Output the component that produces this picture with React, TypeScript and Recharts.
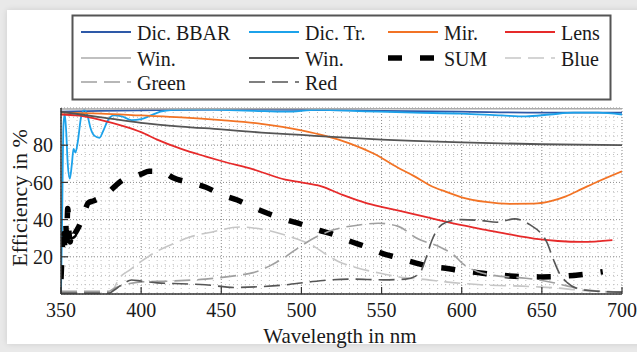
import { LineChart, Line, XAxis, YAxis, CartesianGrid } from 'recharts';

type Pt = [number, number];

// wavelength (nm) / efficiency (%) pairs
const bbar: Pt[] = [[350, 98], [375, 98.5], [400, 98.8], [450, 99.2], [500, 99], [550, 98.5], [600, 98], [650, 97.5], [700, 97.5]];

const dicTr: Pt[] = [
  [350, 0], [350.7, 40], [351.5, 90], [352.3, 97], [353.2, 88], [354.2, 70], [355.5, 62], [356.8, 70], [357.8, 78],
  [359, 76], [360.5, 82], [362.5, 95], [364.5, 99], [366.5, 96], [368.5, 89], [371, 85], [374, 84], [376.5, 88],
  [379, 93], [383, 96], [388, 95.5], [394, 93.5], [400, 94], [406, 96], [412, 98], [420, 99], [435, 99.3],
  [450, 99], [470, 98.5], [490, 98], [510, 99], [540, 98.2], [570, 97.5], [600, 97], [625, 96], [640, 95.5],
  [655, 96.5], [670, 97.5], [685, 97.5], [700, 96.5],
];

const mirror: Pt[] = [
  [350, 97.5], [375, 97], [400, 96], [425, 95], [450, 93.5], [475, 91.5], [500, 88], [515, 85], [530, 81],
  [545, 75.5], [560, 68], [570, 63.5], [580, 58.5], [590, 55], [600, 52], [615, 49.5], [630, 48.5], [645, 48.6],
  [655, 49.8], [665, 52.5], [675, 56.5], [685, 60.5], [700, 66],
];

const lens: Pt[] = [
  [350, 96.5], [360, 96], [375, 93.5], [390, 90], [400, 87], [410, 83], [425, 78], [440, 74], [450, 71.5],
  [470, 67], [490, 61.5], [500, 60], [512, 58], [525, 53.5], [540, 49], [552, 46.5], [570, 43], [587, 39.5],
  [600, 37], [615, 34.5], [630, 32], [645, 29.8], [660, 28.5], [675, 28], [694, 29],
];

const winLight: Pt[] = [[350, 99.5], [500, 99.6], [700, 99.6]];

const winDark: Pt[] = [
  [350, 98], [375, 95], [400, 92], [425, 90], [450, 88.5], [475, 86.8], [500, 85.5], [525, 84.2], [550, 83],
  [575, 82.2], [600, 81.5], [650, 80.5], [700, 80],
];

const sum: Pt[] = [
  [350, 8], [350.7, 22], [351.4, 32], [352.1, 24], [352.8, 40], [353.5, 30], [354.2, 46], [355, 33], [355.8, 28],
  [356.6, 35], [357.5, 31], [359, 33], [361, 36], [363, 40], [365, 45], [367, 49], [370, 50], [375, 52], [380, 55],
  [385, 59], [390, 62], [395, 63], [400, 64.5], [405, 66], [410, 66], [415, 65], [420, 62.5], [430, 60],
  [440, 57.5], [450, 53.5], [460, 50.5], [470, 46.5], [480, 43], [490, 40], [500, 37.5], [510, 34.5], [520, 32],
  [530, 28.5], [540, 25.5], [550, 22], [560, 19.5], [570, 17], [580, 14.8], [590, 13.8], [600, 12.5], [610, 11.5],
  [620, 10.5], [630, 9.7], [640, 9.3], [650, 9.2], [660, 9.4], [670, 10], [680, 11], [688, 12],
];

const blue: Pt[] = [
  [350, 0.5], [380, 0.5], [382, 1.5], [386, 8], [393, 13], [400, 17.5], [410, 23], [420, 27], [430, 30.5],
  [445, 33.5], [462, 36], [470, 35.5], [480, 34], [494, 30.5], [508, 25.5], [515, 21.5], [523, 17.5], [535, 14],
  [550, 11], [562, 9], [575, 8], [590, 6.5], [612, 5], [643, 4], [660, 3.2], [670, 2.3], [685, 1.5], [700, 1],
];

const green: Pt[] = [
  [350, 1.5], [380, 1.5], [383, 3], [390, 5], [400, 6.5], [420, 7], [440, 8], [460, 10], [470, 11.5], [480, 15],
  [490, 20], [500, 26], [510, 31], [520, 34.5], [535, 37], [548, 38], [560, 36.5], [572, 30], [587, 25], [595, 21],
  [601, 16], [610, 12], [620, 10], [640, 8.5], [655, 6.5], [665, 4.5], [680, 2], [700, 1],
];

const red: Pt[] = [
  [350, 0.5], [380, 0.5], [383, 2], [388, 5], [394, 7.5], [400, 7], [410, 6], [425, 5.5], [440, 5], [458, 3.5],
  [475, 4], [489, 4.8], [505, 6.5], [518, 7.6], [531, 8], [551, 7.6], [565, 8], [571, 9.5], [575, 13], [578, 20],
  [581, 28], [585, 35], [590, 38.5], [600, 40], [612, 39.5], [622, 38.6], [633, 40.4], [643, 37], [649, 33],
  [653, 28], [657, 19], [661, 11], [666, 6], [674, 2.5], [685, 1.5], [700, 1],
];

const xTicks = [350, 400, 450, 500, 550, 600, 650, 700];
const yTicks = [20, 40, 60, 80];

// minor grid every 5 nm / 5 %
const xMinor: number[] = [];
for (let v = 355; v < 700; v += 5) if (v % 50 !== 0) xMinor.push(v);
const yMinor: number[] = [];
for (let v = 5; v < 100; v += 5) if (v % 20 !== 0) yMinor.push(v);

const FONT = "'Liberation Serif', 'Times New Roman', serif";
const DASH_F = '16 7';

const series = [
  { name: 'Dic. BBAR', pts: bbar, color: '#2e59a8', w: 1.8, dash: undefined },
  { name: 'Dic. Tr.', pts: dicTr, color: '#1ca2ea', w: 1.8, dash: undefined },
  { name: 'Mir.', pts: mirror, color: '#f27325', w: 1.8, dash: undefined },
  { name: 'Lens', pts: lens, color: '#e62a2a', w: 1.8, dash: undefined },
  { name: 'Win.', pts: winLight, color: '#ababab', w: 1.6, dash: undefined },
  { name: 'Win.', pts: winDark, color: '#555555', w: 1.8, dash: undefined },
  { name: 'SUM', pts: sum, color: '#000000', w: 5.5, dash: '14 18' },
  { name: 'Blue', pts: blue, color: '#c6c6c6', w: 1.6, dash: DASH_F },
  { name: 'Green', pts: green, color: '#a0a0a0', w: 1.6, dash: DASH_F },
  { name: 'Red', pts: red, color: '#565656', w: 1.6, dash: DASH_F },
];

const toRows = (pts: Pt[]) => pts.map(([x, y]) => ({ x, y }));

const legendCols = [81, 249, 388, 505];
const legendRows = [32, 58, 82];

const tickStyle = { fontFamily: FONT, fontSize: 20, fill: '#1a1a1a' };
const axisLine = { stroke: '#333', strokeWidth: 1.5 };
const tickLine = { stroke: '#333', strokeWidth: 1.2 };

export default function App() {
  return (
    <div style={{ position: 'fixed', left: 0, top: 0, width: 637, height: 352, background: '#e9e9e9', overflow: 'hidden' }}>
      <div style={{ position: 'absolute', left: 7, top: 10, width: 640, height: 334, background: '#fff', boxShadow: '0 0 6px rgba(0,0,0,0.12)' }} />
      <div style={{ position: 'absolute', left: 0, top: 0 }}>
        <LineChart width={637} height={352} margin={{ top: 108, right: 15, bottom: 28, left: 11 }}>
          <CartesianGrid xAxisId="b" yAxisId="l" verticalValues={xMinor} horizontalValues={yMinor}
            stroke="#bdbdbd" strokeDasharray="1 3" />
          <CartesianGrid xAxisId="b" yAxisId="l" stroke="#8a8a8a" strokeDasharray="1 2" />
          <XAxis xAxisId="b" type="number" dataKey="x" domain={[350, 700]} ticks={xTicks} allowDataOverflow interval={0}
            height={30} tickSize={-7} tickMargin={16} tick={tickStyle} axisLine={axisLine} tickLine={tickLine} />
          <XAxis xAxisId="t" orientation="top" type="number" dataKey="x" domain={[350, 700]} ticks={xTicks} allowDataOverflow
            interval={0} height={0} tickSize={-7} tickFormatter={() => ''} axisLine={axisLine} tickLine={tickLine} />
          <YAxis yAxisId="l" type="number" domain={[0, 100]} ticks={yTicks} allowDataOverflow interval={0}
            width={50} tickSize={-7} tickMargin={15} tick={tickStyle} axisLine={axisLine} tickLine={tickLine} />
          <YAxis yAxisId="r" orientation="right" type="number" domain={[0, 100]} ticks={yTicks} allowDataOverflow
            interval={0} width={0} tickSize={-7} tickFormatter={() => ''} axisLine={axisLine} tickLine={tickLine} />
          {series.map((s, i) => (
            <Line key={i} xAxisId="b" yAxisId="l" data={toRows(s.pts)} dataKey="y" name={s.name} type="monotone"
              stroke={s.color} strokeWidth={s.w} strokeDasharray={s.dash} dot={false} activeDot={false}
              isAnimationActive={false} />
          ))}
        </LineChart>
      </div>
      <svg width={637} height={352} style={{ position: 'absolute', left: 0, top: 0, pointerEvents: 'none' }}>
        <rect x={72.5} y={15.5} width={538} height={84} fill="#fff" stroke="#555" strokeWidth={2} />
        {series.map((s, i) => {
          const cx = legendCols[i % 4];
          const cy = legendRows[Math.floor(i / 4)];
          return (
            <g key={i}>
              <line x1={cx} x2={cx + 50} y1={cy} y2={cy} stroke={s.color} strokeWidth={s.w} strokeDasharray={s.dash} />
              <text x={cx + 56} y={cy + 1} dominantBaseline="central" fontFamily={FONT} fontSize={20} fill="#1a1a1a">
                {s.name}
              </text>
            </g>
          );
        })}
        <text x={340} y={343} textAnchor="middle" fontFamily={FONT} fontSize={21} fill="#1a1a1a">Wavelength in nm</text>
        <text x={0} y={0} transform="translate(27,198) rotate(-90)" textAnchor="middle" fontFamily={FONT} fontSize={22}
          fill="#1a1a1a">Efficiency in %</text>
      </svg>
    </div>
  );
}
